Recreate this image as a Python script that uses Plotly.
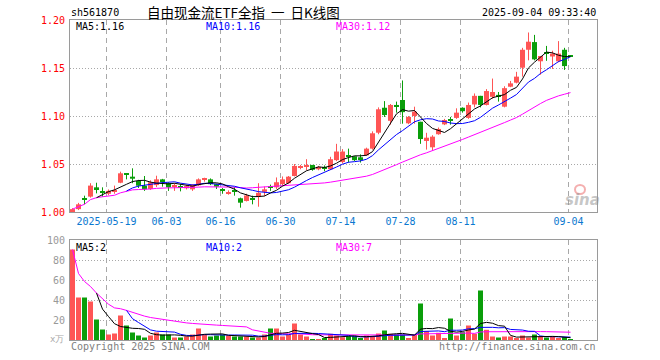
import numpy as np
import pandas as pd
import plotly.graph_objects as go

# ---------------- data ----------------
trade_dates = [d.strftime("%Y-%m-%d") for d in pd.bdate_range("2025-05-09", "2025-09-04")
               if d.strftime("%Y-%m-%d") != "2025-06-02"]

open_ = [1.000, 1.003, 1.0138, 1.016, 1.0257, 1.021, 1.019, 1.0215, 1.0305, 1.0393,
         1.0368, 1.0323, 1.0274, 1.024, 1.028, 1.034, 1.030, 1.0265, 1.0265, 1.0247,
         1.0236, 1.0278, 1.0335, 1.034, 1.029, 1.0232, 1.019, 1.0215, 1.0143, 1.0115,
         1.014, 1.016, 1.021, 1.0265, 1.0257, 1.029, 1.030, 1.0375, 1.0465, 1.047,
         1.049, 1.0445, 1.046, 1.0445, 1.054, 1.052, 1.0585, 1.058, 1.057, 1.059,
         1.066, 1.0826, 1.1086, 1.095, 1.1115, 1.1167, 1.0924, 1.100, 1.094, 1.074,
         1.0674, 1.081, 1.0913, 1.096, 1.098, 1.1086, 1.098, 1.112, 1.121, 1.1115,
         1.120, 1.122, 1.1097, 1.1305, 1.1347, 1.1503, 1.169, 1.177, 1.157, 1.1655,
         1.162, 1.157, 1.169, 1.1635]
high = [1.004, 1.0095, 1.017, 1.030, 1.0305, 1.0257, 1.0235, 1.0275, 1.042, 1.0395,
        1.0455, 1.0335, 1.0375, 1.033, 1.0378, 1.0345, 1.031, 1.030, 1.029, 1.028,
        1.029, 1.035, 1.0357, 1.035, 1.0295, 1.025, 1.0225, 1.026, 1.015, 1.019,
        1.017, 1.030, 1.0265, 1.0285, 1.036, 1.037, 1.0375, 1.050, 1.049, 1.055,
        1.049, 1.048, 1.0485, 1.0575, 1.071, 1.0655, 1.066, 1.058, 1.060, 1.067,
        1.084, 1.109, 1.1155, 1.1125, 1.115, 1.137, 1.100, 1.1097, 1.094, 1.0825,
        1.080, 1.088, 1.097, 1.099, 1.108, 1.109, 1.114, 1.1235, 1.121, 1.128,
        1.139, 1.125, 1.131, 1.1365, 1.146, 1.171, 1.187, 1.1845, 1.1625, 1.173,
        1.168, 1.178, 1.171, 1.1635]
low = [0.999, 1.002, 1.008, 1.015, 1.0194, 1.016, 1.0175, 1.019, 1.030, 1.034,
       1.030, 1.025, 1.022, 1.023, 1.026, 1.0264, 1.022, 1.022, 1.0215, 1.0235,
       1.022, 1.027, 1.0316, 1.028, 1.024, 1.019, 1.018, 1.017, 1.0045, 1.011,
       1.008, 1.0055, 1.0165, 1.022, 1.024, 1.027, 1.0295, 1.037, 1.0445, 1.0435,
       1.043, 1.0435, 1.0425, 1.044, 1.053, 1.0505, 1.0515, 1.053, 1.0515, 1.0585,
       1.065, 1.081, 1.099, 1.091, 1.1035, 1.092, 1.0915, 1.092, 1.071, 1.065,
       1.064, 1.0805, 1.0905, 1.091, 1.097, 1.1035, 1.097, 1.109, 1.109, 1.111,
       1.118, 1.115, 1.109, 1.130, 1.134, 1.141, 1.158, 1.158, 1.143, 1.1575,
       1.149, 1.156, 1.148, 1.162]
close = [1.003, 1.008, 1.0132, 1.0275, 1.0229, 1.0205, 1.022, 1.0225, 1.0403, 1.039,
         1.0347, 1.0274, 1.0236, 1.031, 1.034, 1.032, 1.0257, 1.027, 1.026, 1.027,
         1.0285, 1.034, 1.034, 1.029, 1.0264, 1.0228, 1.0195, 1.021, 1.0097, 1.0172,
         1.0125, 1.020, 1.0236, 1.026, 1.031, 1.034, 1.0368, 1.048, 1.047, 1.049,
         1.044, 1.047, 1.045, 1.055, 1.063, 1.063, 1.0575, 1.054, 1.055, 1.066,
         1.082, 1.107, 1.101, 1.1115, 1.1097, 1.104, 1.099, 1.1045, 1.076, 1.0774,
         1.0785, 1.0865, 1.0958, 1.0955, 1.1035, 1.105, 1.1115, 1.121, 1.1115, 1.126,
         1.125, 1.120, 1.129, 1.134, 1.141, 1.169, 1.1774, 1.159, 1.1625, 1.165,
         1.165, 1.165, 1.152, 1.162]
volume = [90.5, 42.5, 42.5, 38.5, 20.5, 10.5, 5.5, 6.5, 24.5, 14.5,
          7.5, 4.5, 2.5, 4.5, 7.5, 5.5, 5.5, 2.5, 2.5, 3.5,
          5.5, 11.5, 5.5, 3.5, 4.5, 5.5, 4.5, 3.5, 3.5, 3.5,
          2.5, 2.5, 5.5, 11.5, 11.5, 3.5, 5.5, 16.5, 5.5, 3.5,
          1.0, 1.0, 1.5, 6.2, 4.5, 2.8, 3.8, 3.8, 1.8, 4.5,
          3.8, 6.5, 9.5, 6.2, 5.5, 5.5, 1.8, 5.2, 36.5, 8.8,
          4.5, 7.2, 1.8, 21.5, 4.5, 7.8, 14.5, 6.2, 49.5, 10.2,
          3.5, 2.5, 3.5, 3.5, 1.5, 4.5, 2.5, 5.5, 3.5, 2.5,
          4.0, 1.5, 3.0, 0.5]

tick_dates = ["2025-05-19", "2025-06-03", "2025-06-16", "2025-06-30",
              "2025-07-14", "2025-07-28", "2025-08-11", "2025-09-04"]
tick_labels = ["2025-05-19", "06-03", "06-16", "06-30", "07-14", "07-28", "08-11", "09-04"]
price_ticks = [1.00, 1.05, 1.10, 1.15, 1.20]
vol_ticks = [20, 40, 60, 80, 100]

symbol = "sh561870"
title_text = "自由现金流ETF全指  一  日K线图"
timestamp = "2025-09-04 09:33:40"
price_ma_labels = ["MA5:1.16", "MA10:1.16", "MA30:1.12"]
vol_ma_labels = ["MA5:2", "MA10:2", "MA30:7"]

# ---------------- derived ----------------
n = len(close)
idx = np.arange(n)
o = np.array(open_); h = np.array(high); l = np.array(low); c = np.array(close)
v = np.array(volume)
up = c >= o
RED, GREEN = "#FF5555", "#0A9E0A"
colors = [RED if u else GREEN for u in up]

cs = pd.Series(c); vs = pd.Series(v)
ma5 = cs.rolling(5).mean(); ma10 = cs.rolling(10).mean(); ma30 = cs.rolling(30, min_periods=1).mean()
vma5 = vs.rolling(5).mean(); vma10 = vs.rolling(10).mean(); vma30 = vs.rolling(30, min_periods=1).mean()

body_lo = np.minimum(o, c)
body_h = np.maximum(np.abs(c - o), 0.0011)

def wick_xy(mask):
    xs, ys = [], []
    for i in idx[mask]:
        xs += [i, i, None]
        ys += [l[i], h[i], None]
    return xs, ys

fig = go.Figure()
for mask, col in [(up, RED), (~up, GREEN)]:
    wx, wy = wick_xy(mask)
    fig.add_trace(go.Scatter(x=wx, y=wy, mode="lines", line=dict(color=col, width=1),
                             hoverinfo="skip", showlegend=False, xaxis="x", yaxis="y"))
fig.add_trace(go.Bar(x=idx, y=body_h, base=body_lo, width=5 / 6, marker=dict(color=colors, line=dict(width=0)),
                     showlegend=False, xaxis="x", yaxis="y"))
for s, col in [(ma30, "#FF00FF"), (ma10, "#0000FF"), (ma5, "#000000")]:
    fig.add_trace(go.Scatter(x=idx, y=s, mode="lines", line=dict(color=col, width=1),
                             showlegend=False, xaxis="x", yaxis="y"))

fig.add_trace(go.Bar(x=idx, y=v, width=5 / 6, marker=dict(color=colors, line=dict(width=0)),
                     showlegend=False, xaxis="x2", yaxis="y2"))
for s, col in [(vma30, "#FF00FF"), (vma10, "#0000FF"), (vma5, "#000000")]:
    fig.add_trace(go.Scatter(x=idx, y=s, mode="lines", line=dict(color=col, width=1),
                             showlegend=False, xaxis="x2", yaxis="y2"))

tick_pos = [trade_dates.index(d) - 1 / 3 for d in tick_dates]
xr = [-2.5 / 6, -2.5 / 6 + 527 / 6]
MONO = "DejaVu Sans Mono"
GRID = "#A8A8A8"
BORDER = "#9A9A9A"

common_x = dict(range=xr, tickmode="array", tickvals=tick_pos, showgrid=True, gridcolor=GRID,
                griddash="5px,4px", gridwidth=1, zeroline=False, showline=True, linecolor=BORDER,
                linewidth=1, mirror=True, ticks="")
fig.update_layout(
    width=660, height=360, margin=dict(l=70, r=63, t=20, b=20),
    paper_bgcolor="white", plot_bgcolor="white", barmode="overlay", showlegend=False,
    font=dict(family=MONO, size=10),
    xaxis=dict(domain=[0, 1], anchor="y", ticktext=tick_labels,
               tickfont=dict(family=MONO, size=10, color="#0A78D0"), **common_x),
    xaxis2=dict(domain=[0, 1], anchor="y2", showticklabels=False, **common_x),
    yaxis=dict(domain=[0.4, 1], range=[1.00, 1.20], tickmode="array", tickvals=price_ticks,
               ticktext=[f"{t:.2f}" for t in price_ticks], tickfont=dict(family=MONO, size=10, color="#FF0000"),
               showgrid=True, gridcolor=GRID, griddash="1px,2px", zeroline=False, showline=True,
               linecolor=BORDER, mirror=True, ticks="", ticklabelstandoff=2),
    yaxis2=dict(domain=[0, 0.3125], range=[0, 100], tickmode="array", tickvals=vol_ticks,
                ticktext=[str(t) for t in vol_ticks], tickfont=dict(family=MONO, size=10, color="#999999"),
                showgrid=True, gridcolor=GRID, griddash="1px,2px", zeroline=False, showline=True,
                linecolor=BORDER, mirror=True, ticks="", ticklabelstandoff=2),
)

def px_x(p):
    return (p - 70) / 527

def px_y(p):
    return (340 - p) / 320

ann = []
def add(text, x, y, xa="left", color="#000", size=10, family=MONO, **kw):
    ann.append(dict(text=text, x=px_x(x), y=px_y(y), xref="paper", yref="paper", xanchor=xa,
                    yanchor="middle", showarrow=False, font=dict(family=family, size=size, color=color), **kw))

add(symbol, 69, 12)
add(title_text, 243, 12, xa="center", size=13.5, family="Noto Sans CJK SC")
add(timestamp, 598, 12, xa="right")
ma_cols = ["#000000", "#0000FF", "#FF00FF"]
for t, xx, col in zip(price_ma_labels, [74, 204, 334], ma_cols):
    add(t, xx, 26, color=col)
for t, xx, col in zip(vol_ma_labels, [74, 204, 334], ma_cols):
    add(t, xx, 247, color=col)
add("Copyright 2025 SINA.COM", 69, 346, color="#808080")
add("http://finance.sina.com.cn", 598, 346, xa="right", color="#808080")
add("x万", 66, 339, xa="right", color="#AAAAAA", size=9)
ann.append(dict(text="<b><i>sina</i></b>", x=px_x(582), y=px_y(200), xref="paper", yref="paper",
                xanchor="center", yanchor="middle", showarrow=False,
                font=dict(family="DejaVu Sans", size=15, color="rgba(150,150,150,0.55)")))
fig.update_layout(annotations=ann)
fig.add_shape(type="circle", xref="paper", yref="paper",
              x0=px_x(575), x1=px_x(585), y0=px_y(194), y1=px_y(185),
              line=dict(color="rgba(235,110,110,0.55)", width=2))

fig.write_html("out.html", config={"displayModeBar": False},
               post_script="document.body.style.margin='0px';document.body.style.padding='0px';")
